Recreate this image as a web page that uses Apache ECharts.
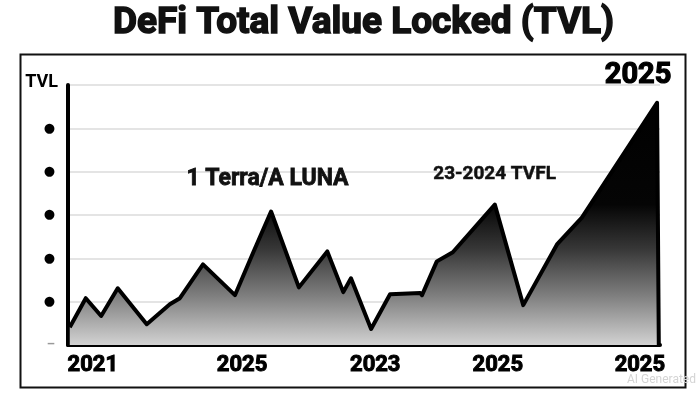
<!DOCTYPE html>
<html>
<head>
<meta charset="utf-8">
<script src="https://cdn.jsdelivr.net/npm/echarts@6/dist/echarts.min.js"></script>
<style>
html,body{margin:0;padding:0;background:#fff;}
#c{width:700px;height:393px;}
</style>
</head>
<body>
<div id="c"></div>
<script>
// ---- data ----
const titleText = 'DeFi Total Value Locked (TVL)';
const xPos = [0.3, 3.0, 5.6, 8.4, 13.3, 17.2, 18.9, 22.8, 28.2, 31.3, 34.3, 39.0, 43.8, 46.5, 47.8, 51.2, 54.4, 59.5, 59.8, 62.3, 65.0, 72.1, 76.9, 82.6, 86.8, 99.5, 99.8];
const tvl  = [0.41, 1.08, 0.67, 1.31, 0.48, 0.94, 1.08, 1.86, 1.15, 2.14, 3.08, 1.33, 2.16, 1.22, 1.54, 0.37, 1.17, 1.20, 1.15, 1.93, 2.14, 3.24, 0.92, 2.32, 2.94, 5.59, 0];
const xTickPos = [4.2, 29.4, 51.9, 72.6, 96.6];
const xTickLabels = ['2021', '2025', '2023', '2025', '2025'];
const yTicks = [0, 1, 2, 3, 4, 5, 6];
const annotations = ['1 Terra/A LUNA', '23-2024 TVFL'];
const cornerLabel = '2025';

const chart = echarts.init(document.getElementById('c'), null, {renderer: 'canvas'});
const font = 'Roboto, "Liberation Sans", Arial, sans-serif';
const seriesData = xPos.map((x, i) => [x, tvl[i]]);

chart.setOption({
  backgroundColor: '#ffffff',
  animation: false,
  title: {
    text: titleText,
    left: 108,
    top: 0,
    textStyle: {fontFamily: font, fontSize: 37, fontWeight: 'bold', color: '#111',
                textBorderColor: '#111', textBorderWidth: 1.5}
  },
  grid: {left: 68, right: 40, top: 85, bottom: 48},
  xAxis: {
    type: 'value',
    min: 0, max: 100,
    axisLine: {show: true, onZero: false, lineStyle: {color: '#000', width: 4}},
    axisTick: {show: false},
    splitLine: {show: false},
    axisLabel: {
      customValues: xTickPos,
      formatter: function (v) {
        const i = xTickPos.indexOf(v);
        return i >= 0 ? xTickLabels[i] : '';
      },
      fontFamily: font, fontSize: 22, fontWeight: 'bold', color: '#000', margin: 9,
      textBorderColor: '#000', textBorderWidth: 1
    }
  },
  yAxis: {
    type: 'value',
    min: 0, max: 6, interval: 1,
    axisLine: {show: true, lineStyle: {color: '#000', width: 4}},
    axisTick: {show: false},
    splitLine: {show: true, lineStyle: {color: '#e4e4e4', width: 2}},
    axisLabel: {
      margin: 10,
      formatter: function (v) {
        if (v === yTicks[yTicks.length - 1]) return '{t|TVL}';
        if (v === 0) return '{z|\u2013}';
        return '{d|\u25CF}';
      },
      rich: {
        t: {fontFamily: font, fontSize: 18, fontWeight: 'bold', color: '#000', padding: [0, 0, 6, 0]},
        d: {fontFamily: 'DejaVu Sans', fontSize: 13, color: '#000', padding: [0, 3, 0, 0]},
        z: {fontFamily: font, fontSize: 13, fontWeight: 'bold', color: '#999', padding: [0, 3, 0, 0]}
      }
    }
  },
  series: [{
    type: 'line',
    data: seriesData,
    symbol: 'none',
    smooth: false,
    lineStyle: {color: '#000', width: 4, join: 'round'},
    areaStyle: {
      color: new echarts.graphic.LinearGradient(0, 0, 0, 1, [
        {offset: 0, color: '#000000'},
        {offset: 0.42, color: '#050505'},
        {offset: 0.6, color: '#363636'},
        {offset: 0.8, color: '#808080'},
        {offset: 1, color: '#d2d2d2'}
      ]),
      opacity: 1
    },
    z: 3
  }],
  graphic: [
    {type: 'rect', left: 18, top: 52, shape: {width: 665, height: 333},
     style: {fill: 'none', stroke: '#111', lineWidth: 2}, z: 0, silent: true},
    {type: 'text', left: 186, top: 167,
     style: {text: annotations[0], font: 'bold 23px ' + font, fill: '#111', stroke: '#111', lineWidth: 0.8}, z: 10},
    {type: 'text', left: 433, top: 164,
     style: {text: annotations[1], font: 'bold 19px ' + font, fill: '#111', stroke: '#111', lineWidth: 0.5}, z: 10},
    {type: 'text', right: 28, top: 61,
     style: {text: cornerLabel, font: 'bold 29px ' + font, fill: '#000', stroke: '#000', lineWidth: 1.2}, z: 10},
    {type: 'text', right: 4, top: 374,
     style: {text: 'AI Generated', font: '12px ' + font, fill: '#d4d4d4'}, z: 10}
  ]
});
</script>
</body>
</html>
